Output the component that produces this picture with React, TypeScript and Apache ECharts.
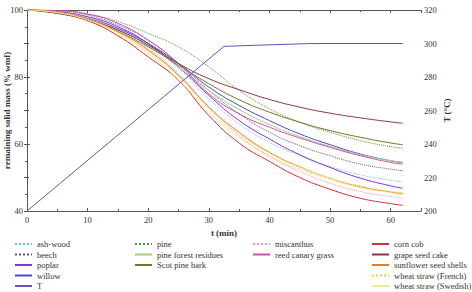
import React, { useEffect, useRef } from 'react';
import * as echarts from 'echarts';

// Sampling times (min) for the solid-mass curves
const TIME = [0, 5, 10, 15, 20, 25, 30, 35, 40, 45, 50, 55, 60, 62];

// Remaining solid mass (% wmf) per feedstock
const ashWood = [100, 99.5, 97.8, 94.5, 89.5, 82.5, 73.5, 66, 60.5, 56.5, 53.3, 50.8, 49.2, 48.7];
const beech = [100, 99.8, 98.5, 95.5, 91, 84, 76, 69, 63.5, 59.5, 56.5, 54, 52.5, 52];
const poplar = [100, 99.5, 98, 95, 90, 83, 74.5, 67, 61.5, 56.8, 53, 49.8, 47.5, 46.8];
const willow = [100, 99.3, 97.5, 94.5, 90, 84, 77, 71.5, 67, 63, 59.8, 57, 55, 54.5];
const pine = [100, 99.8, 98.8, 96.5, 93, 89, 83, 76, 70.5, 66.5, 63.5, 61, 59.2, 58.7];
const pineForestResidues = [100, 99.3, 97.3, 94, 89.5, 83, 76, 70.3, 65.8, 62.2, 59.3, 56.8, 55, 54.5];
const scotPineBark = [100, 99, 97, 93.5, 89, 83.5, 78, 73.2, 69.5, 66.5, 64, 62, 60.3, 59.8];
const miscanthus = [100, 99.3, 97.5, 94, 88.5, 81, 71, 62.5, 56.3, 51.8, 48.3, 45.8, 44.3, 43.8];
const reedCanaryGrass = [100, 99.8, 98.8, 96, 91, 84, 75, 69, 65, 61.8, 59, 56.5, 54.5, 54];
const cornCob = [100, 99.2, 96.8, 92.3, 86, 79, 68.5, 60.3, 54.8, 50, 46.5, 43.8, 42.2, 41.7];
const grapeSeedCake = [100, 99, 97, 94, 89.5, 84, 79.5, 76.2, 73.3, 71, 69.2, 67.8, 66.6, 66.2];
const sunflowerSeedShells = [100, 99.3, 97.3, 93.5, 88, 80.5, 71, 63.5, 57.5, 53.2, 49.8, 47.3, 45.7, 45.2];
const wheatStrawFrench = [100, 99.3, 97.2, 93, 87, 79, 69.5, 62, 56.5, 52.5, 49.5, 47, 45.5, 45];
const wheatStrawSwedish = [100, 99.2, 97, 93.2, 87.5, 80, 70.5, 63, 57.2, 53, 49.8, 47.5, 45.9, 45.5];

// Reactor temperature programme
const TEMP_TIME = [0, 32.5, 40, 47, 62];
const TEMP = [200, 298.3, 299.2, 300, 300];

const FONT = '"Liberation Serif", "DejaVu Serif", serif';
const TEXT = '#333';
const AXIS = '#555';

type Curve = { name: string; values: number[]; color: string; dotted?: boolean };

const CURVES: Curve[] = [
  { name: 'ash-wood', values: ashWood, color: '#6cc4f0', dotted: true },
  { name: 'beech', values: beech, color: '#5a5a80', dotted: true },
  { name: 'poplar', values: poplar, color: '#8a2fd0' },
  { name: 'willow', values: willow, color: '#4848e0' },
  { name: 'pine', values: pine, color: '#4f9a3a', dotted: true },
  { name: 'pine forest residues', values: pineForestResidues, color: '#9fd27a' },
  { name: 'Scot pine bark', values: scotPineBark, color: '#6b7826' },
  { name: 'miscanthus', values: miscanthus, color: '#ff8fb0', dotted: true },
  { name: 'reed canary grass', values: reedCanaryGrass, color: '#d24cb4' },
  { name: 'corn cob', values: cornCob, color: '#d42f35' },
  { name: 'grape seed cake', values: grapeSeedCake, color: '#8a3648' },
  { name: 'sunflower seed shells', values: sunflowerSeedShells, color: '#ea7a2c' },
  { name: 'wheat straw (French)', values: wheatStrawFrench, color: '#f0cc30', dotted: true },
  { name: 'wheat straw (Swedish)', values: wheatStrawSwedish, color: '#e6ee9a' },
];

const LEGEND_COLUMNS = [
  { left: 14, names: ['ash-wood', 'beech', 'poplar', 'willow', 'T'] },
  { left: 134, names: ['pine', 'pine forest residues', 'Scot pine bark'] },
  { left: 252, names: ['miscanthus', 'reed canary grass'] },
  { left: 371, names: ['corn cob', 'grape seed cake', 'sunflower seed shells', 'wheat straw (French)', 'wheat straw (Swedish)'] },
];

const label = { fontFamily: FONT, fontSize: 8.5, color: TEXT };
const nameStyle = { fontFamily: FONT, fontSize: 9, fontWeight: 'bold' as const, color: TEXT };

export default function App() {
  const ref = useRef<HTMLDivElement>(null);

  useEffect(() => {
    const chart = echarts.init(ref.current!, null, { renderer: 'svg' });

    const massSeries = CURVES.map((c) => ({
      name: c.name,
      type: 'line',
      xAxisIndex: 0,
      yAxisIndex: 0,
      data: TIME.map((t, i) => [t, c.values[i]]),
      symbol: 'none',
      smooth: true,
      color: c.color,
      lineStyle: { width: 1, color: c.color, type: c.dotted ? 'dotted' : 'solid' },
    }));

    const tempSeries = {
      name: 'T',
      type: 'line',
      xAxisIndex: 0,
      yAxisIndex: 1,
      data: TEMP_TIME.map((t, i) => [t, TEMP[i]]),
      symbol: 'none',
      color: '#6a4fc8',
      lineStyle: { width: 1, color: '#6a4fc8' },
    };

    const xCommon = {
      type: 'value' as const,
      min: 0,
      max: 65,
      interval: 10,
      axisLine: { lineStyle: { color: AXIS, width: 1 } },
      axisTick: { inside: true, length: 3, lineStyle: { color: AXIS } },
      minorTick: { show: true, splitNumber: 2, length: 2, lineStyle: { color: AXIS } },
      splitLine: { show: false },
    };

    const yCommon = {
      type: 'value' as const,
      axisLine: { show: true, lineStyle: { color: AXIS, width: 1 } },
      axisTick: { show: true, inside: true, length: 3, lineStyle: { color: AXIS } },
      minorTick: { show: true, splitNumber: 2, length: 2, lineStyle: { color: AXIS } },
      splitLine: { show: false },
    };

    chart.setOption({
      animation: false,
      backgroundColor: '#fff',
      grid: { left: 27, right: 51, top: 10, bottom: 81, containLabel: false, outerBoundsMode: 'none' },
      xAxis: [
        {
          ...xCommon,
          position: 'bottom',
          axisLabel: { ...label, margin: 4, showMaxLabel: false },
          name: 't (min)',
          nameLocation: 'middle',
          nameGap: 17,
          nameMoveOverlap: false,
          nameTextStyle: nameStyle,
        },
        {
          ...xCommon,
          position: 'top',
          axisLabel: { show: false },
        },
      ],
      yAxis: [
        {
          ...yCommon,
          position: 'left',
          min: 40,
          max: 100,
          interval: 20,
          axisLabel: { ...label, margin: 4 },
          name: 'remaining solid mass (% wmf)',
          nameLocation: 'middle',
          nameGap: 16,
          nameMoveOverlap: false,
          nameTextStyle: nameStyle,
        },
        {
          ...yCommon,
          position: 'right',
          min: 200,
          max: 320,
          interval: 20,
          axisLabel: { ...label, margin: 3 },
          name: 'T (°C)',
          nameLocation: 'middle',
          nameRotate: 90,
          nameGap: 21,
          nameMoveOverlap: false,
          nameTextStyle: nameStyle,
        },
      ],
      legend: LEGEND_COLUMNS.map((col) => ({
        orient: 'vertical',
        left: col.left,
        top: 239,
        padding: 0,
        itemWidth: 17,
        itemHeight: 8,
        itemGap: 0.5,
        selectedMode: false,
        itemStyle: { opacity: 0 },
        data: col.names,
        textStyle: { fontFamily: FONT, fontSize: 8.5, color: TEXT, lineHeight: 10 },
      })),
      series: [...massSeries, tempSeries],
    });

    return () => chart.dispose();
  }, []);

  return (
    <div
      ref={ref}
      style={{ position: 'fixed', left: 0, top: 0, width: 472, height: 292 }}
    />
  );
}
